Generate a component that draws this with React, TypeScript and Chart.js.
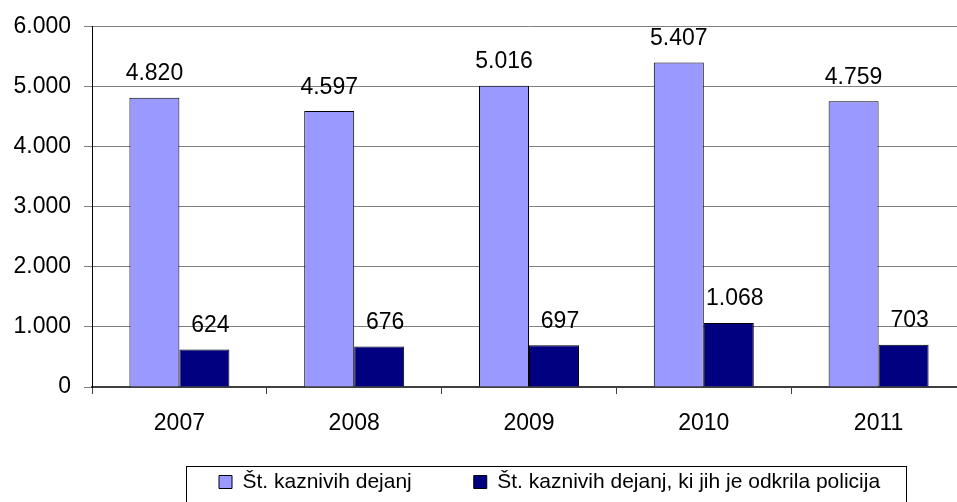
import React, { useEffect, useRef } from "react";
import { Chart, registerables } from "chart.js";

Chart.register(...registerables);

const years = ["2007", "2008", "2009", "2010", "2011"];
const totalOffences = [4820, 4597, 5016, 5407, 4759];
const policeDetected = [624, 676, 697, 1068, 703];
const seriesLabels = [
  "Št. kaznivih dejanj",
  "Št. kaznivih dejanj, ki jih je odkrila policija",
];
const seriesColors = ["#9999FF", "#000080"];
const yMin = 0;
const yMax = 6000;
const yStep = 1000;

const FONT = "'Liberation Sans', Arial, sans-serif";

function fmt(v: number): string {
  return String(Math.round(v)).replace(/\B(?=(\d{3})+(?!\d))/g, ".");
}

const LEGEND_PAD = 62;
const LEGEND_FONT = 21;
const LEGEND_CY = 482;

const legendPlugin = {
  id: "legendTweak",
  afterLayout(chart: any) {
    const lg = chart.legend;
    if (!lg || !lg.lineWidths) return;
    const LW = lg.lineWidths[0];
    const start = (lg.left + LEGEND_PAD + lg.right - LW) / 2;
    const d = 219 - start;
    lg.left += d;
    lg.right += d;
    const h = lg.height;
    lg.top = LEGEND_CY - LEGEND_FONT / 2 - LEGEND_PAD;
    lg.bottom = lg.top + h;
  },
  afterDraw(chart: any) {
    const lg = chart.legend;
    if (!lg || !lg.lineWidths) return;
    const LW = lg.lineWidths[0];
    const start = (lg.left + LEGEND_PAD + lg.right - LW) / 2;
    const end = start + LW - LEGEND_PAD;
    const cy = lg.top + LEGEND_PAD + LEGEND_FONT / 2;
    const ctx = chart.ctx;
    ctx.save();
    ctx.strokeStyle = "#000000";
    ctx.lineWidth = 1;
    ctx.strokeRect(
      Math.round(start - 33) + 0.5,
      Math.round(cy - 16) + 0.5,
      Math.round(end + 26 - (start - 33)),
      40
    );
    ctx.restore();
  },
};

const dataLabelPlugin = {
  id: "dataLabels",
  afterDatasetsDraw(chart: any) {
    const ctx = chart.ctx;
    ctx.save();
    ctx.font = `23px ${FONT}`;
    ctx.fillStyle = "#000000";
    ctx.textAlign = "center";
    ctx.textBaseline = "alphabetic";
    chart.data.datasets.forEach((ds: any, di: number) => {
      const meta = chart.getDatasetMeta(di);
      meta.data.forEach((el: any, i: number) => {
        const v = ds.data[i];
        ctx.fillText(fmt(v), el.x + (di === 1 ? 6 : 0), el.y - 17.5);
      });
    });
    ctx.restore();
  },
};

export default function App() {
  const ref = useRef<HTMLCanvasElement | null>(null);

  useEffect(() => {
    if (!ref.current) return;
    const chart = new Chart(ref.current, {
      type: "bar",
      data: {
        labels: years,
        datasets: [
          {
            label: seriesLabels[0],
            data: totalOffences,
            backgroundColor: seriesColors[0],
            borderColor: "#000000",
            borderWidth: 1,
          },
          {
            label: seriesLabels[1],
            data: policeDetected,
            backgroundColor: seriesColors[1],
            borderColor: "#000000",
            borderWidth: 1,
          },
        ],
      },
      options: {
        responsive: false,
        animation: false,
        devicePixelRatio: 1,
        datasets: {
          bar: { categoryPercentage: 0.572, barPercentage: 1 },
        },
        layout: { padding: { left: 0, right: 14, top: 25, bottom: 20 } },
        plugins: {
          tooltip: { enabled: false },
          legend: {
            display: true,
            position: "bottom",
            labels: {
              boxWidth: 13,
              boxHeight: 13,
              padding: LEGEND_PAD,
              color: "#000000",
              font: { family: FONT, size: LEGEND_FONT },
            },
          },
        },
        scales: {
          x: {
            grid: {
              offset: true,
              drawOnChartArea: false,
              drawTicks: true,
              tickLength: 7,
              color: "#404040",
              lineWidth: 1,
            },
            border: { display: true, color: "#404040", width: 2 },
            ticks: {
              color: "#000000",
              padding: 16,
              font: { family: FONT, size: 23 },
              maxRotation: 0,
              autoSkip: false,
            },
            afterFit(scale: any) {
              scale.height = 60;
            },
          },
          y: {
            min: yMin,
            max: yMax,
            grid: {
              color: "#808080",
              lineWidth: 1,
              tickLength: 8,
              drawTicks: true,
            },
            border: { display: true, color: "#000000", width: 1 },
            ticks: {
              stepSize: yStep,
              color: "#000000",
              padding: 13,
              font: { family: FONT, size: 23 },
              callback: (v: any) => fmt(Number(v)),
            },
            afterFit(scale: any) {
              scale.width = 92;
            },
          },
        },
      },
      plugins: [legendPlugin, dataLabelPlugin],
    });
    return () => chart.destroy();
  }, []);

  return (
    <div
      style={{
        position: "fixed",
        left: 0,
        top: 0,
        width: 957,
        height: 502,
        overflow: "hidden",
        background: "#ffffff",
      }}
    >
      <canvas
        ref={ref}
        width={980}
        height={560}
        style={{ display: "block", width: 980, height: 560 }}
      />
    </div>
  );
}
